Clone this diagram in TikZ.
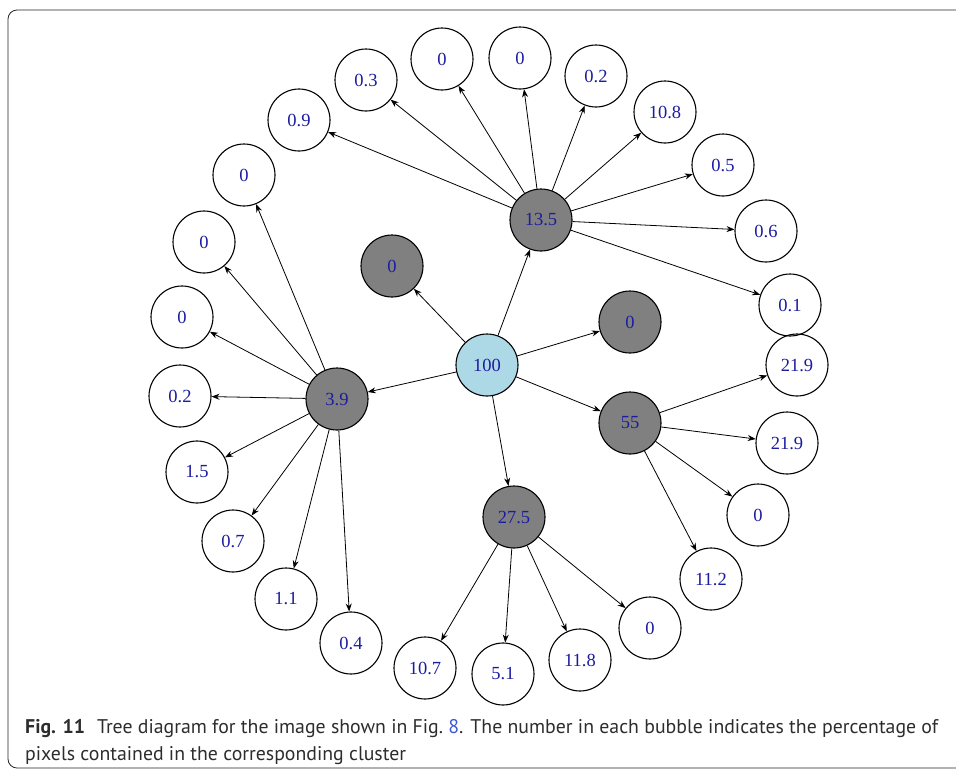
\documentclass[tikz,border=0pt]{standalone}
\usepackage{fontspec}
\setmainfont{Liberation Serif}
\newfontfamily\capfont{PT Sans}
\usetikzlibrary{arrows.meta}

\definecolor{numblue}{RGB}{28,28,160}
\definecolor{linkblue}{RGB}{60,90,215}
\definecolor{capgray}{RGB}{45,45,45}
\definecolor{rootblue}{RGB}{173,216,230}

\tikzset{
    leaf/.style={circle, draw, line width=1.1pt, minimum size=62pt, inner sep=0pt,
        text=numblue, font=\fontsize{18.5}{18.5}\selectfont},
    cluster/.style={leaf, fill=gray},
    rootnode/.style={leaf, fill=rootblue},
    link/.style={-{Stealth[length=8pt,width=6pt]}, line width=0.8pt}
}

\begin{document}
\begin{tikzpicture}[x=1pt,y=-1pt]
            \useasboundingbox (0,0) rectangle (956,772);
            \begin{scope}
                \clip (0,0) rectangle (956,772);
                \draw[rounded corners=9pt, line width=0.8pt, draw=black!85] (8,10) rectangle (1000,768);
            \end{scope}

            \node[rootnode] (root) at (487,365) {100};
            \node[cluster] (g0a) at (392,266) {0};
            \node[cluster] (g0b) at (630,322) {0};
            \node[cluster] (c135) at (541,220) {13.5};
            \node[cluster] (c39) at (337,399) {3.9};
            \node[cluster] (c55) at (630,423) {55};
            \node[cluster] (c275) at (514,517) {27.5};

            % children of 13.5
            \node[leaf] (a1) at (299,120) {0.9};
            \node[leaf] (a2) at (366,80) {0.3};
            \node[leaf] (a3) at (442,59) {0};
            \node[leaf] (a4) at (520,58) {0};
            \node[leaf] (a5) at (596,76) {0.2};
            \node[leaf] (a6) at (665,112) {10.8};
            \node[leaf] (a7) at (723,165) {0.5};
            \node[leaf] (a8) at (766,231) {0.6};
            \node[leaf] (a9) at (790,305) {0.1};

            % children of 3.9
            \node[leaf] (b1) at (244,175) {0};
            \node[leaf] (b2) at (204,242) {0};
            \node[leaf] (b3) at (182,317) {0};
            \node[leaf] (b4) at (180,396) {0.2};
            \node[leaf] (b5) at (197,472) {1.5};
            \node[leaf] (b6) at (233,541) {0.7};
            \node[leaf] (b7) at (286,599) {1.1};
            \node[leaf] (b8) at (351,643) {0.4};

            % children of 55
            \node[leaf] (d1) at (797,365) {21.9};
            \node[leaf] (d2) at (787,443) {21.9};
            \node[leaf] (d3) at (758,515) {0};
            \node[leaf] (d4) at (711,579) {11.2};

            % children of 27.5
            \node[leaf] (e1) at (425,668) {10.7};
            \node[leaf] (e2) at (503,674) {5.1};
            \node[leaf] (e3) at (580,660) {11.8};
            \node[leaf] (e4) at (650,628) {0};

            \foreach \k in {g0a,g0b,c135,c39,c55,c275}
                \draw[link] (root) -- (\k);
            \foreach \k in {a1,a2,a3,a4,a5,a6,a7,a8,a9}
                \draw[link] (c135) -- (\k);
            \foreach \k in {b1,b2,b3,b4,b5,b6,b7,b8}
                \draw[link] (c39) -- (\k);
            \foreach \k in {d1,d2,d3,d4}
                \draw[link] (c55) -- (\k);
            \foreach \k in {e1,e2,e3,e4}
                \draw[link] (c275) -- (\k);

            \node[anchor=base west, align=left, inner sep=0pt, text=capgray,
                font=\capfont\fontsize{19.8}{27}\selectfont] (caption) at (25,760)
                {\textbf{Fig. 11}\hspace{0.6em}Tree diagram for the image shown in Fig.~\textcolor{linkblue}{8}. The number in each bubble indicates the percentage of\\
                pixels contained in the corresponding cluster};
\end{tikzpicture}
\end{document}
